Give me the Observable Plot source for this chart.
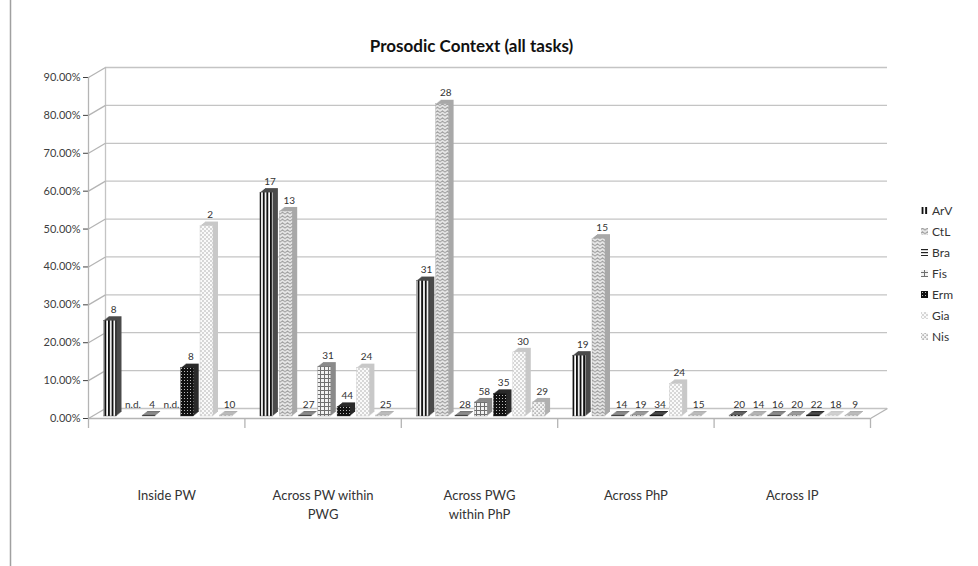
<!DOCTYPE html>
<html><head><meta charset="utf-8">
<script src="https://cdn.jsdelivr.net/npm/d3@7"></script>
<script src="https://cdn.jsdelivr.net/npm/@observablehq/plot@0.6"></script>
<style>
body{margin:0;background:#fff;}
#chart{position:relative;width:978px;height:566px;overflow:hidden;}
</style></head><body><div id="chart"></div>
<script>
const chartTitle = "Prosodic Context (all tasks)";
const groups = ["Inside PW", "Across PW within\nPWG", "Across PWG\nwithin PhP", "Across PhP", "Across IP"];
const series = ["ArV", "CtL", "Bra", "Fis", "Erm", "Gia", "Nis"];
// percentages per group
const valArV = [25.00, 58.82, 35.48, 15.79, 0];
const valCtL = [null, 53.85, 82.14, 46.67, 0];
const valBra = [0, 0, 0, 0, 0];
const valFis = [null, 12.90, 3.45, 0, 0];
const valErm = [12.50, 2.27, 5.71, 0, 0];
const valGia = [50.00, 12.50, 16.67, 8.33, 0];
const valNis = [0, 0, 3.45, 0, 0];
// data labels (counts)
const nArV = ["8", "17", "31", "19", "20"];
const nCtL = ["n.d.", "13", "28", "15", "14"];
const nBra = ["4", "27", "28", "14", "16"];
const nFis = ["n.d.", "31", "58", "19", "20"];
const nErm = ["8", "44", "35", "34", "22"];
const nGia = ["2", "24", "30", "24", "18"];
const nNis = ["10", "25", "29", "15", "9"];
const yTicks = [0, 10, 20, 30, 40, 50, 60, 70, 80, 90];

const values = [valArV, valCtL, valBra, valFis, valErm, valGia, valNis];
const counts = [nArV, nCtL, nBra, nFis, nErm, nGia, nNis];
const sideColors = ["#4a4a4a", "#a8a8a8", "#777", "#8a8a8a", "#2a2a2a", "#c8c8c8", "#b0b0b0"];

const W = 978, H = 566;
const mLeft = 88, mRight = 870, mTop = 77, mBottom = 418;
const ux = 5 / (mRight - mLeft), uy = 90 / (mBottom - mTop);
const depthX = 17 * ux, depthY = 10 * uy;
const step = 0.1234, firstOff = 0.1407, halfW = 0.0415;
const barLift = -2;

const rows = [];
groups.forEach((g, gi) => {
  series.forEach((s, j) => {
    rows.push({gi, j, s, v: values[j][gi], n: counts[j][gi], xc: gi + firstOff + step * j});
  });
});
const bars = rows.filter(r => r.v != null);

const ext = [];
for (let k = 1; k <= 5; k++) {
  ext.push(Plot.rectY(bars, {x1: d => d.xc - halfW, x2: d => d.xc + halfW, y1: 0, y2: d => d.v,
    fill: d => sideColors[d.j], dx: k, dy: barLift - 0.8 * k, insetTop: -1}));
}

const plot = Plot.plot({
  width: W, height: H,
  marginLeft: mLeft, marginRight: W - mRight, marginTop: mTop, marginBottom: H - mBottom,
  x: {domain: [0, 5], axis: null},
  y: {domain: [0, 90], ticks: yTicks, tickFormat: d => d.toFixed(2) + "%", tickSize: 5, tickPadding: 3, label: null},
  style: {fontFamily: "Lato, 'Open Sans', sans-serif", fontSize: "11px", color: "#404040", background: "#fff", overflow: "visible"},
  marks: [
    Plot.ruleX([(10 - mLeft) * ux], {y1: mBottom * uy, y2: (mBottom - H) * uy, stroke: "#a0a0a0", strokeWidth: 1.5}),
    Plot.ruleY(yTicks, {y: d => d + depthY, x1: depthX, x2: 5 + depthX, stroke: "#c4c4c4", strokeWidth: 1.3}),
    Plot.ruleX([depthX], {y1: depthY, y2: 90 + depthY, stroke: "#c4c4c4", strokeWidth: 1.3}),
    Plot.link(yTicks, {x1: 0, y1: d => d, x2: depthX, y2: d => d + depthY, stroke: "#b4b4b4", strokeWidth: 1.3}),
    Plot.ruleY([0], {x1: 0, x2: 5, stroke: "#b4b4b4", strokeWidth: 1.3}),
    Plot.link([0], {x1: 5, y1: 0, x2: 5 + depthX, y2: depthY, stroke: "#b4b4b4", strokeWidth: 1.3}),
    Plot.ruleX([0], {y1: 0, y2: 90, stroke: "#b4b4b4", strokeWidth: 1.3}),
    Plot.ruleX([0, 1, 2, 3, 4, 5], {y1: 0, y2: -10 * uy, stroke: "#b4b4b4", strokeWidth: 1.3}),
    ...ext,
    Plot.rectY(bars, {x1: d => d.xc - halfW, x2: d => d.xc + halfW, y1: 0, y2: d => d.v, dy: barLift,
      fill: d => `url(#pat${d.s})`, stroke: d => sideColors[d.j], strokeWidth: 0.4, insetTop: -1}),
    Plot.text(rows, {x: d => d.xc + 0.02, y: d => d.v || 0, text: d => d.n, dy: -14, fontSize: 10, fill: "#333"}),
    Plot.text(groups, {x: (d, i) => i + 0.5, y: 0, text: d => d, dy: 68, lineAnchor: "top", lineHeight: 1.45, fontSize: 13, fill: "#333"}),
    Plot.text([chartTitle], {frameAnchor: "top", text: d => d, dx: -8, dy: -38, fontSize: 17, fontWeight: "bold", fill: "#111"})
  ]
});

const defs = `
<pattern id="patArV" width="3.6" height="4" patternUnits="userSpaceOnUse"><rect width="3.6" height="4" fill="#fff"/><rect width="1.9" height="4" fill="#111"/></pattern>
<pattern id="patCtL" width="5" height="3.5" patternUnits="userSpaceOnUse"><rect width="5" height="3.5" fill="#e8e8e8"/><path d="M0 2.8 L2.5 0.7 L5 2.8" fill="none" stroke="#8f8f8f" stroke-width="0.9"/></pattern>
<pattern id="patBra" width="4" height="3" patternUnits="userSpaceOnUse"><rect width="4" height="3" fill="#fff"/><rect width="4" height="1.2" fill="#222"/></pattern>
<pattern id="patFis" width="4" height="4" patternUnits="userSpaceOnUse"><rect width="4" height="4" fill="#f2f2f2"/><path d="M0 0.5H4M0.5 0V4" stroke="#6f6f6f" stroke-width="1"/></pattern>
<pattern id="patErm" width="3" height="3" patternUnits="userSpaceOnUse"><rect width="3" height="3" fill="#111"/><rect x="1" y="1" width="1" height="1" fill="#bbb"/></pattern>
<pattern id="patGia" width="4" height="4" patternUnits="userSpaceOnUse"><rect width="4" height="4" fill="#fafafa"/><circle cx="1" cy="1" r="0.7" fill="#9a9a9a"/><circle cx="3" cy="3" r="0.7" fill="#9a9a9a"/></pattern>
<pattern id="patNis" width="4" height="4" patternUnits="userSpaceOnUse"><rect width="4" height="4" fill="#f4f4f4"/><rect x="0.5" y="0.5" width="1.2" height="1.2" fill="#7a7a7a"/><rect x="2.5" y="2.5" width="1.2" height="1.2" fill="#7a7a7a"/></pattern>`;
const svg = d3.select(plot);
svg.insert("defs", ":first-child").html(defs);

const lg = svg.append("g").attr("font-family", "Lato, 'Open Sans', sans-serif").attr("font-size", 12)
  .attr("fill", "#333").attr("text-anchor", "start");
series.forEach((s, i) => {
  const y = 211 + 21 * i;
  lg.append("rect").attr("x", 921).attr("y", y - 4).attr("width", 7).attr("height", 7).attr("fill", `url(#pat${s})`);
  lg.append("text").attr("x", 932).attr("y", y).attr("dy", "0.35em").text(s);
});

document.getElementById("chart").appendChild(plot);
</script></body></html>
